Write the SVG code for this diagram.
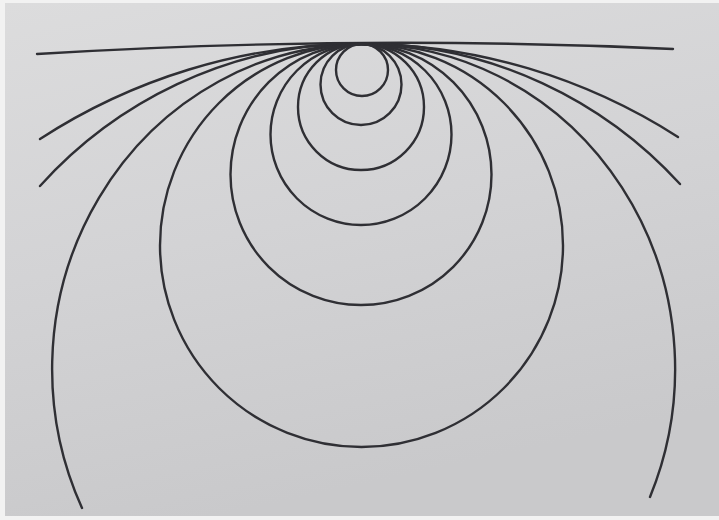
<svg xmlns="http://www.w3.org/2000/svg" width="719" height="520" viewBox="0 0 719 520">
  <defs>
    <linearGradient id="paper" x1="0" y1="0" x2="0.3" y2="1">
      <stop offset="0" stop-color="#dcdcdd"/>
      <stop offset="0.5" stop-color="#d3d3d5"/>
      <stop offset="1" stop-color="#c9c9cb"/>
    </linearGradient>
    <style>
      .c { fill: none; stroke: #2f2f34; stroke-width: 2.4; stroke-linecap: round; }
    </style>
  </defs>
  <rect x="0" y="0" width="719" height="520" fill="#f2f2f2"/>
  <rect x="5" y="3" width="714" height="513" fill="url(#paper)"/>
  <g id="curves">
    <path class="c" d="M37,54 Q355,34.5 673,49"/>
    <path class="c" d="M40,139 A588,588 0 0 1 678,137"/>
    <path class="c" d="M40,186 A432,432 0 0 1 680,184"/>
    <path class="c" d="M82,508 A311.5,325 0 1 1 650,497"/>
    <circle class="c" cx="361.5" cy="245.5" r="201.5"/>
    <circle class="c" cx="361" cy="174.5" r="130.5"/>
    <circle class="c" cx="361" cy="134.5" r="90.5"/>
    <circle class="c" cx="361" cy="107" r="63"/>
    <circle class="c" cx="361" cy="84.5" r="40.5"/>
    <circle class="c" cx="362" cy="70" r="26"/>
  </g>
</svg>
